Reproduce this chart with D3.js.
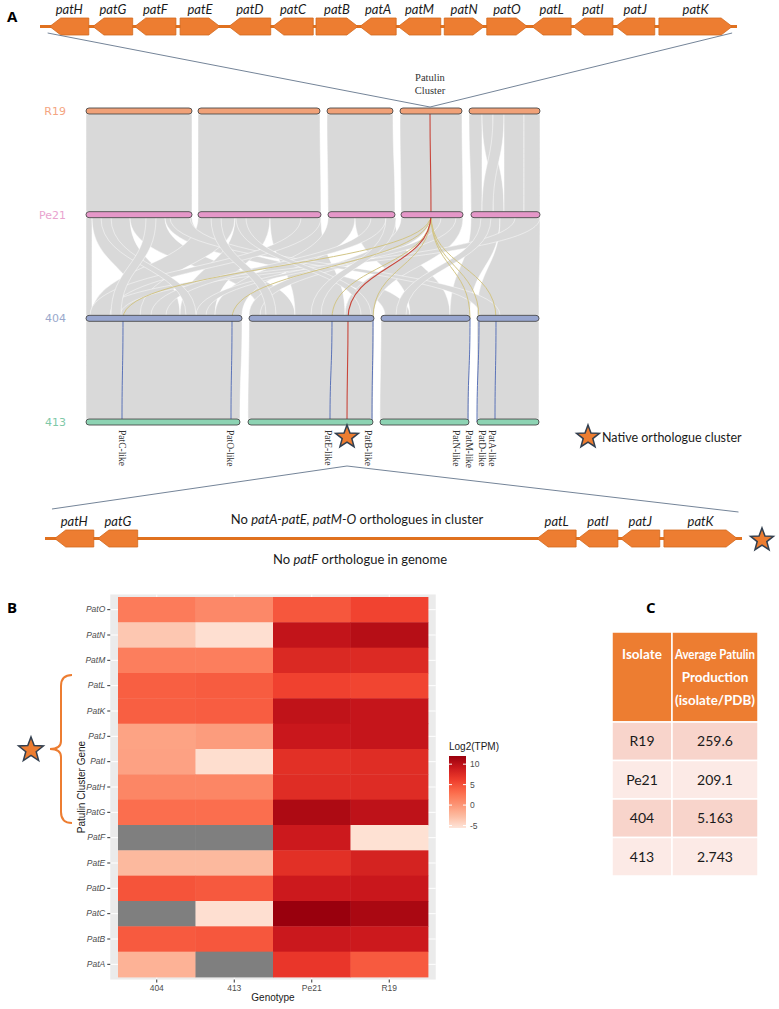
<!DOCTYPE html>
<html>
<head>
<meta charset="utf-8">
<script src="https://cdn.jsdelivr.net/npm/d3@7"></script>
<style>
  body { margin: 0; background: #fff; }
  svg { display: block; }
</style>
</head>
<body>
<div id="chart"></div>
<script>
// ---- panel A: cluster genes (relative cluster coordinates, 0-100) ----
const topGenes = ['patH','patG','patF','patE','patD','patC','patB','patA','patM','patN','patO','patL','patI','patJ','patK']
const topStart = [1.4, 7.6, 13.6, 20.1, 27.1, 33.4, 39.6, 45.9, 51.4, 58.0, 64.1, 70.6, 76.5, 82.6, 88.8]
const topEnd   = [7.0, 13.3, 19.5, 25.8, 33.1, 39.2, 45.6, 51.1, 57.5, 63.7, 69.9, 76.2, 82.2, 88.2, 99.3]
const topStrand = [-1, -1, -1, 1, -1, -1, 1, -1, -1, 1, 1, -1, -1, -1, 1]

const lowGenes = ['patH','patG','patL','patI','patJ','patK']
const lowStart = [1.4, 7.6, 70.6, 76.5, 82.6, 88.8]
const lowEnd   = [7.0, 13.3, 76.2, 82.2, 88.2, 99.3]
const lowStrand = [-1, -1, -1, -1, -1, 1]

// ---- synteny: contigs per genome (Mb along concatenated axis) ----
const genomes = ['R19', 'Pe21', '404', '413']
const contigs = {
  R19:  [[0, 2.12], [2.24, 4.68], [4.82, 6.14], [6.28, 7.52], [7.66, 9.08]],
  Pe21: [[0, 2.12], [2.24, 4.70], [4.84, 6.18], [6.30, 7.54], [7.70, 9.08]],
  '404': [[0, 3.12], [3.26, 5.76], [5.90, 7.68], [7.82, 9.06]],
  '413': [[0, 3.08], [3.24, 5.74], [5.88, 7.66], [7.82, 9.06]]
}
// syntenic blocks [upper start, upper end, lower start, lower end]
const blocksR19Pe21 = [
  [0, 2.12, 0, 2.12], [2.24, 4.68, 2.24, 4.70], [4.82, 6.14, 4.84, 6.18], [6.28, 7.52, 6.30, 7.54],
  [7.66, 7.92, 7.70, 7.92], [7.92, 8.14, 8.14, 8.36], [8.14, 8.36, 7.92, 8.14],
  [8.36, 8.76, 8.36, 8.76], [8.76, 9.08, 8.76, 9.08]
]
const blocksPe21404 = [
  [0, 0.12, 0, 0.12], [0.12, 0.88, 1.08, 1.88], [0.88, 1.58, 3.48, 4.18], [1.58, 2.12, 5.98, 6.48],
  [2.24, 2.98, 0.12, 1.08], [2.98, 3.68, 1.88, 2.58], [3.68, 4.70, 4.18, 5.18], [4.84, 5.38, 2.58, 3.12],
  [5.38, 6.18, 6.48, 7.28], [6.30, 6.88, 3.26, 3.48], [6.88, 7.54, 5.18, 5.76], [7.70, 8.28, 7.28, 7.68],
  [8.28, 9.08, 7.82, 9.06], [8.58, 9.08, 0.28, 0.68], [1.68, 2.08, 7.88, 8.28], [4.30, 4.70, 0.08, 0.48],
  [5.70, 6.00, 1.30, 1.60], [7.10, 7.40, 2.20, 2.40], [0.30, 0.50, 2.00, 2.20], [1.20, 1.40, 0.50, 0.70],
  [3.00, 3.20, 5.50, 5.70], [6.00, 6.20, 4.50, 4.70], [7.90, 8.10, 6.20, 6.40], [2.50, 2.70, 3.60, 3.80]
]
const blocks404413 = [[0, 3.12, 0, 3.08], [3.26, 5.76, 3.24, 5.74], [5.90, 7.68, 5.88, 7.66], [7.82, 9.06, 7.82, 9.06]]

// patulin cluster links
const clusterR19 = 6.88, clusterPe21 = 6.90
const hits404 = [0.74, 2.92, 4.92, 5.74, 7.68, 7.86, 8.20]
const hits413 = [0.72, 2.90, 4.88, 5.72, 7.64, 7.82, 8.18]
const native404 = 5.24, native413 = 5.22
const orthoLabels = ['PatC-like', 'PatO-like', 'PatE-like', 'PatB-like', 'PatN-like', 'PatM-like', 'PatD-like', 'PatA-like']
const orthoPos = [0.66, 2.82, 4.78, 5.58, 7.34, 7.60, 7.86, 8.05]

// ---- panel B: heatmap Log2(TPM) ----
const heatGenes = ['PatO','PatN','PatM','PatL','PatK','PatJ','PatI','PatH','PatG','PatF','PatE','PatD','PatC','PatB','PatA']
const heatGenotypes = ['404', '413', 'Pe21', 'R19']
const tpm404  = [2.0, -3.5, 1.8, 4.0, 4.0, -0.9, -0.8, 1.2, 2.9, null, -2.5, 4.7, null, 4.3, -2.0]
const tpm413  = [1.0, -5.2, 1.8, 4.2, 4.1, -0.4, -5.1, 1.2, 2.9, null, -2.5, 4.4, -5.2, 4.5, null]
const tpmPe21 = [4.5, 9.6, 7.8, 5.8, 9.7, 9.2, 7.2, 7.4, 10.8, 9.0, 7.2, 9.0, 12.0, 9.1, 6.6]
const tpmR19  = [5.7, 10.3, 7.7, 5.6, 9.4, 9.4, 7.4, 7.5, 9.8, -5.3, 8.3, 9.2, 11.0, 9.0, 4.3]
const legendTicks = [10, 5, 0, -5]

// ---- panel C: table ----
const isolates = ['R19', 'Pe21', '404', '413']
const patulin = ['259.6', '209.1', '5.163', '2.743']

const orange = '#ED7D31'
const sans = 'Lato, "Open Sans", sans-serif'
const serif = '"Liberation Serif", "DejaVu Serif", serif'

const svg = d3.select('#chart').append('svg')
  .attr('width', 779)
  .attr('height', 1009)

function arrowPath (x0, x1, strand, y0, h) {
  const ym = y0 + h / 2
  const hl = Math.min(11, (x1 - x0) * 0.5)
  if (strand > 0) return `M${x0},${y0}L${x1 - hl},${y0}L${x1},${ym}L${x1 - hl},${y0 + h}L${x0},${y0 + h}Z`
  return `M${x0},${ym}L${x0 + hl},${y0}L${x1},${y0}L${x1},${y0 + h}L${x0 + hl},${y0 + h}Z`
}

function starPath (cx, cy, r) {
  const pts = []
  for (let i = 0; i < 10; i++) {
    const rr = i % 2 === 0 ? r : r * 0.42
    const a = -Math.PI / 2 + i * Math.PI / 5
    pts.push([cx + rr * Math.cos(a), cy + rr * Math.sin(a)])
  }
  return 'M' + pts.map(p => p.join(',')).join('L') + 'Z'
}

function drawStar (cx, cy, r) {
  svg.append('path')
    .attr('d', starPath(cx, cy, r))
    .attr('fill', orange)
    .attr('stroke', '#323F4F')
    .attr('stroke-width', 1.5)
    .attr('stroke-linejoin', 'miter')
}

// squeeze text into a width if it runs over (stands in for a narrow font)
function fitText (sel, maxW) {
  sel.each(function () {
    const w = this.getComputedTextLength()
    if (w > maxW) {
      d3.select(this).attr('textLength', maxW).attr('lengthAdjust', 'spacingAndGlyphs')
    }
  })
}

function drawCluster (g, scale, names, starts, ends, strands, top, labelY) {
  const h = 17
  g.append('line')
    .attr('x1', scale(0)).attr('x2', scale(100))
    .attr('y1', top + h / 2).attr('y2', top + h / 2)
    .attr('stroke', '#E0711F')
    .attr('stroke-width', 3)
  names.forEach((name, i) => {
    const x0 = scale(starts[i]), x1 = scale(ends[i])
    g.append('path')
      .attr('d', arrowPath(x0, x1, strands[i], top, h))
      .attr('fill', orange)
      .attr('stroke', '#D2691E')
      .attr('stroke-width', 0.8)
    g.append('text')
      .attr('x', (x0 + x1) / 2)
      .attr('y', labelY)
      .attr('text-anchor', 'middle')
      .attr('font-family', sans)
      .attr('font-style', 'italic')
      .attr('font-size', 13)
      .attr('fill', '#1a1a1a')
      .text(name)
  })
}

// panel letters
;[['A', 7, 22], ['B', 7, 613], ['C', 646, 613]].forEach(d => {
  svg.append('text')
    .attr('x', d[1]).attr('y', d[2])
    .attr('font-family', '"Open Sans", sans-serif')
    .attr('font-weight', 'bold')
    .attr('font-size', 15)
    .text(d[0])
})

// ---- top cluster ----
const topX = d3.scaleLinear().domain([0, 100]).range([40, 737])
drawCluster(svg.append('g'), topX, topGenes, topStart, topEnd, topStrand, 18, 14)

// ---- synteny ----
const synX = d3.scaleLinear().domain([0, 9.08]).range([86, 540])
const synY = d3.scalePoint().domain(genomes).range([111, 422])
const barH = 6

function ribbon (a0, a1, y0, b0, b1, y1) {
  const ym = (y0 + y1) / 2
  return `M${a0},${y0}L${a1},${y0}C${a1},${ym} ${b1},${ym} ${b1},${y1}L${b0},${y1}C${b0},${ym} ${a0},${ym} ${a0},${y0}Z`
}

function linkPath (a, y0, b, y1) {
  const ym = (y0 + y1) / 2
  return `M${a},${y0}C${a},${ym} ${b},${ym} ${b},${y1}`
}

const ribbonG = svg.append('g')
function drawBlocks (blocks, gUp, gLow) {
  const y0 = synY(gUp) + barH / 2, y1 = synY(gLow) - barH / 2
  ribbonG.selectAll(null)
    .data(blocks)
    .join('path')
    .attr('d', d => ribbon(synX(d[0]), synX(d[1]), y0, synX(d[2]), synX(d[3]), y1))
    .attr('fill', '#D9D9D9')
    .attr('stroke', '#fff')
    .attr('stroke-width', 0.6)
    .attr('stroke-opacity', 0.8)
}
drawBlocks(blocksR19Pe21, 'R19', 'Pe21')
drawBlocks(blocksPe21404, 'Pe21', '404')
drawBlocks(blocks404413, '404', '413')

// cluster links
const linkG = svg.append('g').attr('fill', 'none')
const yPe = synY('Pe21'), y404 = synY('404'), y413 = synY('413')
hits404.forEach(h => {
  linkG.append('path')
    .attr('d', linkPath(synX(clusterPe21), yPe, synX(h), y404))
    .attr('stroke', '#D2C586')
    .attr('stroke-width', 1)
})
hits404.forEach((h, i) => {
  linkG.append('path')
    .attr('d', linkPath(synX(h), y404, synX(hits413[i]), y413))
    .attr('stroke', '#5B73B8')
    .attr('stroke-width', 1)
})
linkG.append('path')
  .attr('d', linkPath(synX(clusterR19), synY('R19'), synX(clusterPe21), yPe))
  .attr('stroke', '#C8453A').attr('stroke-width', 1.1)
linkG.append('path')
  .attr('d', linkPath(synX(clusterPe21), yPe, synX(native404), y404))
  .attr('stroke', '#C8453A').attr('stroke-width', 1.1)
linkG.append('path')
  .attr('d', linkPath(synX(native404), y404, synX(native413), y413))
  .attr('stroke', '#C8453A').attr('stroke-width', 1.1)

// contig bars and labels
const barFill = { R19: '#F0A178', Pe21: '#E597C8', '404': '#98A6CF', '413': '#8DD3B3' }
const labelFill = { R19: '#F4A582', Pe21: '#E9A3CF', '404': '#9AA8CC', '413': '#7FC9A8' }
genomes.forEach(g => {
  const y = synY(g)
  svg.append('g').selectAll('rect')
    .data(contigs[g])
    .join('rect')
    .attr('x', d => synX(d[0]))
    .attr('width', d => synX(d[1]) - synX(d[0]))
    .attr('y', y - barH / 2)
    .attr('height', barH)
    .attr('rx', 3)
    .attr('fill', barFill[g])
    .attr('stroke', '#4a4a4a')
    .attr('stroke-width', 0.9)
  svg.append('text')
    .attr('x', 66).attr('y', y + 4)
    .attr('text-anchor', 'end')
    .attr('font-family', 'DejaVu Sans, sans-serif')
    .attr('font-size', 11)
    .attr('fill', labelFill[g])
    .text(g)
})

// Patulin Cluster label and zoom lines
svg.append('text')
  .attr('x', synX(clusterR19)).attr('y', 81)
  .attr('text-anchor', 'middle')
  .attr('font-family', serif).attr('font-size', 10.5).attr('fill', '#333')
  .text('Patulin')
svg.append('text')
  .attr('x', synX(clusterR19)).attr('y', 94)
  .attr('text-anchor', 'middle')
  .attr('font-family', serif).attr('font-size', 10.5).attr('fill', '#333')
  .text('Cluster')
svg.append('path')
  .attr('d', `M${topX(1.1)},33L${synX(clusterR19)},107L${topX(99.3)},33`)
  .attr('fill', 'none')
  .attr('stroke', '#50647E')
  .attr('stroke-width', 0.8)

// orthologue labels under 413
svg.append('g').selectAll('text')
  .data(orthoLabels)
  .join('text')
  .attr('transform', (d, i) => `translate(${synX(orthoPos[i])},430) rotate(90)`)
  .attr('font-family', serif)
  .attr('font-size', 9.5)
  .attr('fill', '#333')
  .text(d => d)

drawStar(synX(native413), 437, 12)
drawStar(588, 437, 12)
svg.append('text')
  .attr('x', 602).attr('y', 442)
  .attr('font-family', sans).attr('font-size', 12.5).attr('fill', '#1a1a1a')
  .text('Native orthologue cluster')

// ---- 404 cluster detail ----
const lowX = d3.scaleLinear().domain([0, 100]).range([45, 742])
svg.append('path')
  .attr('d', `M${lowX(1)},509L${synX(native413)},466L${lowX(99.5)},512`)
  .attr('fill', 'none')
  .attr('stroke', '#50647E')
  .attr('stroke-width', 0.8)
drawCluster(svg.append('g'), lowX, lowGenes, lowStart, lowEnd, lowStrand, 530, 526)
drawStar(762, 540, 12)

const note1 = svg.append('text')
  .attr('x', 357).attr('y', 524)
  .attr('text-anchor', 'middle')
  .attr('font-family', sans).attr('font-size', 13).attr('fill', '#1a1a1a')
note1.append('tspan').text('No ')
note1.append('tspan').attr('font-style', 'italic').text('patA-patE, patM-O')
note1.append('tspan').text(' orthologues in cluster')
const note2 = svg.append('text')
  .attr('x', 360).attr('y', 564)
  .attr('text-anchor', 'middle')
  .attr('font-family', sans).attr('font-size', 13).attr('fill', '#1a1a1a')
note2.append('tspan').text('No ')
note2.append('tspan').attr('font-style', 'italic').text('patF')
note2.append('tspan').text(' orthologue in genome')

// ---- panel B heatmap ----
const reds = ['#fee5d9', '#fcbba1', '#fc9272', '#fb6a4a', '#ef3b2c', '#cb181d', '#99000d']
const vMin = -5.6, vMax = 12
const colorScale = d3.scaleLinear()
  .domain(d3.range(7).map(i => vMin + i * (vMax - vMin) / 6))
  .range(reds)
  .interpolate(d3.interpolateLab)

const hx = d3.scaleBand().domain(heatGenotypes).range([118, 428])
const hy = d3.scaleBand().domain(heatGenes).range([597, 977])
const padX = hx.bandwidth() * 0.1, padY = hy.bandwidth() * 0.1

const heat = svg.append('g')
heat.append('rect')
  .attr('x', 118 - padX).attr('y', 597 - padY)
  .attr('width', 310 + 2 * padX).attr('height', 380 + 2 * padY)
  .attr('fill', '#EBEBEB')
heat.selectAll('.gy')
  .data(heatGenes)
  .join('line')
  .attr('x1', 118 - padX).attr('x2', 428 + padX)
  .attr('y1', d => hy(d) + hy.bandwidth() / 2).attr('y2', d => hy(d) + hy.bandwidth() / 2)
  .attr('stroke', '#fff').attr('stroke-width', 1)
heat.selectAll('.gx')
  .data(heatGenotypes)
  .join('line')
  .attr('y1', 597 - padY).attr('y2', 977 + padY)
  .attr('x1', d => hx(d) + hx.bandwidth() / 2).attr('x2', d => hx(d) + hx.bandwidth() / 2)
  .attr('stroke', '#fff').attr('stroke-width', 1)

const heatValues = [tpm404, tpm413, tpmPe21, tpmR19]
const cells = heatGenes.flatMap((gene, i) =>
  heatGenotypes.map((geno, j) => ({ gene, geno, v: heatValues[j][i] })))
heat.selectAll('.cell')
  .data(cells)
  .join('rect')
  .attr('x', d => hx(d.geno))
  .attr('y', d => hy(d.gene))
  .attr('width', hx.bandwidth() + 0.4)
  .attr('height', hy.bandwidth() + 0.4)
  .attr('fill', d => d.v === null ? '#7F7F7F' : colorScale(d.v))

const yAxis = d3.axisLeft(hy).tickSize(3).tickPadding(2)
const yAx = svg.append('g')
  .attr('transform', `translate(${118 - padX},0)`)
  .call(yAxis)
yAx.select('.domain').remove()
yAx.selectAll('line').attr('stroke', '#333')
yAx.selectAll('text')
  .attr('font-family', '"Liberation Sans", Arial, sans-serif')
  .attr('font-style', 'italic')
  .attr('font-size', 8.5)
  .attr('fill', '#4D4D4D')

const xAxis = d3.axisBottom(hx).tickSize(3).tickPadding(2)
const xAx = svg.append('g')
  .attr('transform', `translate(0,${977 + padY})`)
  .call(xAxis)
xAx.select('.domain').remove()
xAx.selectAll('line').attr('stroke', '#333')
xAx.selectAll('text')
  .attr('font-family', '"Liberation Sans", Arial, sans-serif')
  .attr('font-size', 8.5)
  .attr('fill', '#4D4D4D')

svg.append('text')
  .attr('x', 273).attr('y', 1001)
  .attr('text-anchor', 'middle')
  .attr('font-family', '"Liberation Sans", Arial, sans-serif')
  .attr('font-size', 10).attr('fill', '#1a1a1a')
  .text('Genotype')
svg.append('text')
  .attr('transform', 'translate(85,787) rotate(-90)')
  .attr('text-anchor', 'middle')
  .attr('font-family', '"Liberation Sans", Arial, sans-serif')
  .attr('font-size', 10).attr('fill', '#1a1a1a')
  .text('Patulin Cluster Gene')

// bracket over PatL..PatG
const bTop = hy('PatL') + 2, bBot = hy('PatG') + hy.bandwidth() - 2, bMid = (bTop + bBot) / 2
svg.append('path')
  .attr('d', `M72,${bTop}Q61,${bTop} 61,${bTop + 11}L61,${bMid - 8}Q61,${bMid} 50,${bMid}Q61,${bMid} 61,${bMid + 8}L61,${bBot - 11}Q61,${bBot} 72,${bBot}`)
  .attr('fill', 'none')
  .attr('stroke', orange)
  .attr('stroke-width', 2)
drawStar(31, bMid + 1, 13)

// colour bar legend
const legY = d3.scaleLinear().domain([vMin, vMax]).range([828, 756])
const grad = svg.append('defs').append('linearGradient')
  .attr('id', 'redgrad')
  .attr('x1', 0).attr('x2', 0).attr('y1', 1).attr('y2', 0)
d3.range(0, 1.0001, 0.05).forEach(t => {
  grad.append('stop')
    .attr('offset', t)
    .attr('stop-color', colorScale(vMin + t * (vMax - vMin)))
})
svg.append('text')
  .attr('x', 449).attr('y', 750)
  .attr('font-family', '"Liberation Sans", Arial, sans-serif')
  .attr('font-size', 10).attr('fill', '#1a1a1a')
  .text('Log2(TPM)')
svg.append('rect')
  .attr('x', 449).attr('y', legY(vMax))
  .attr('width', 17).attr('height', legY(vMin) - legY(vMax))
  .attr('fill', 'url(#redgrad)')
legendTicks.forEach(t => {
  svg.append('line')
    .attr('x1', 449).attr('x2', 452).attr('y1', legY(t)).attr('y2', legY(t))
    .attr('stroke', '#fff')
  svg.append('line')
    .attr('x1', 463).attr('x2', 466).attr('y1', legY(t)).attr('y2', legY(t))
    .attr('stroke', '#fff')
  svg.append('text')
    .attr('x', 470).attr('y', legY(t) + 3)
    .attr('font-family', '"Liberation Sans", Arial, sans-serif')
    .attr('font-size', 8.5).attr('fill', '#4D4D4D')
    .text(t)
})

// ---- panel C table ----
const tX = d3.scaleOrdinal().domain(['iso', 'val']).range([612, 672])
const colW = { iso: 60, val: 86 }
const headTop = 632, headH = 90
const rowY = d3.scaleBand().domain(isolates).range([headTop + headH, 876])
const rowFill = ['#F8D4CB', '#FCEAE6', '#F8D4CB', '#FCEAE6']

const table = svg.append('g')
;['iso', 'val'].forEach(c => {
  table.append('rect')
    .attr('x', tX(c)).attr('y', headTop)
    .attr('width', colW[c]).attr('height', headH)
    .attr('fill', orange)
    .attr('stroke', '#fff').attr('stroke-width', 1.5)
})
isolates.forEach((iso, i) => {
  ;['iso', 'val'].forEach(c => {
    table.append('rect')
      .attr('x', tX(c)).attr('y', rowY(iso))
      .attr('width', colW[c]).attr('height', rowY.bandwidth())
      .attr('fill', rowFill[i])
      .attr('stroke', '#fff').attr('stroke-width', 1.5)
  })
  table.append('text')
    .attr('x', tX('iso') + colW.iso / 2).attr('y', rowY(iso) + rowY.bandwidth() / 2 + 5)
    .attr('text-anchor', 'middle')
    .attr('font-family', sans).attr('font-size', 14).attr('fill', '#1a1a1a')
    .text(iso)
  table.append('text')
    .attr('x', tX('val') + colW.val / 2).attr('y', rowY(iso) + rowY.bandwidth() / 2 + 5)
    .attr('text-anchor', 'middle')
    .attr('font-family', sans).attr('font-size', 14).attr('fill', '#1a1a1a')
    .text(patulin[i])
})
table.append('text')
  .attr('x', tX('iso') + colW.iso / 2).attr('y', headTop + 27)
  .attr('text-anchor', 'middle')
  .attr('font-family', sans).attr('font-weight', 'bold').attr('font-size', 13.5).attr('fill', '#fff')
  .text('Isolate')
  .call(fitText, colW.iso - 8)
;['Average Patulin', 'Production', '(isolate/PDB)'].forEach((line, i) => {
  table.append('text')
    .attr('x', tX('val') + colW.val / 2).attr('y', headTop + 27 + i * 23)
    .attr('text-anchor', 'middle')
    .attr('font-family', sans).attr('font-weight', 'bold').attr('font-size', 13.5).attr('fill', '#fff')
    .text(line)
    .call(fitText, colW.val - 6)
})
</script>
</body>
</html>
